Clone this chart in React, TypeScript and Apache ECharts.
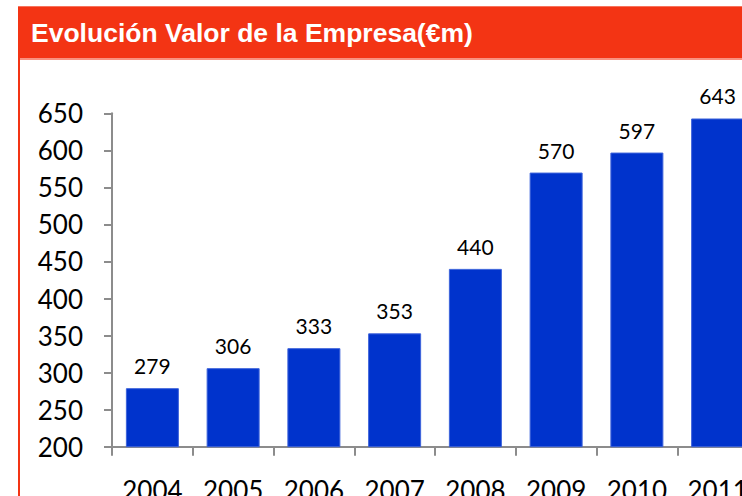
import React, { useEffect, useRef } from "react";
import * as echarts from "echarts";

const years = ["2004", "2005", "2006", "2007", "2008", "2009", "2010", "2011"];
const values = [279, 306, 333, 353, 440, 570, 597, 643];
const titleText = "Evolución Valor de la Empresa(€m)";
const yMin = 200;
const yMax = 650;
const yStep = 50;

export default function App() {
  const ref = useRef<HTMLDivElement>(null);
  useEffect(() => {
    if (!ref.current) return;
    const chart = echarts.init(ref.current, undefined, { renderer: "svg" });
    const red = "#F33414";
    chart.setOption({
      animation: false,
      backgroundColor: "#ffffff",
      graphic: [
        { type: "rect", shape: { x: 18, y: 6, width: 800, height: 52 }, style: { fill: red } },
        { type: "rect", shape: { x: 18, y: 6, width: 800, height: 1 }, style: { fill: "#F7735C" } },
        { type: "rect", shape: { x: 18, y: 58, width: 800, height: 2 }, style: { fill: "#F9917F" } },
        { type: "rect", shape: { x: 18, y: 58, width: 2, height: 500 }, style: { fill: red } },
        {
          type: "text",
          x: 31,
          y: 33,
          style: {
            text: titleText,
            fill: "#ffffff",
            font: "bold 26.5px 'Liberation Sans', Arial, sans-serif",
            verticalAlign: "middle",
            align: "left",
          },
        },
      ],
      grid: { left: 112, top: 113.3, width: 646, height: 333.4, containLabel: false },
      xAxis: {
        type: "category",
        data: years,
        axisLine: { lineStyle: { color: "#8C8C8C", width: 2 } },
        axisTick: { show: true, length: 9, lineStyle: { color: "#8C8C8C", width: 2 } },
        axisLabel: { color: "#000", fontFamily: "Lato", fontSize: 26, margin: 30 },
      },
      yAxis: {
        type: "value",
        min: yMin,
        max: yMax,
        interval: yStep,
        splitLine: { show: false },
        axisLine: { show: true, lineStyle: { color: "#8C8C8C", width: 2 } },
        axisTick: { show: true, length: 8, lineStyle: { color: "#8C8C8C", width: 2 } },
        axisLabel: { color: "#000", fontFamily: "Lato", fontSize: 26, margin: 29 },
      },
      series: [
        {
          type: "bar",
          data: values,
          barWidth: 53,
          itemStyle: { color: "#0033CC", borderColor: "#3D63DB", borderWidth: 1 },
          label: {
            show: true,
            position: "top",
            distance: 12,
            color: "#000",
            fontFamily: "Lato",
            fontSize: 21,
          },
        },
      ],
    });
    return () => chart.dispose();
  }, []);
  return (
    <div style={{ position: "fixed", left: 0, top: 0, width: 742, height: 496, overflow: "hidden", background: "#fff" }}>
      <div ref={ref} style={{ width: 820, height: 540 }} />
    </div>
  );
}
